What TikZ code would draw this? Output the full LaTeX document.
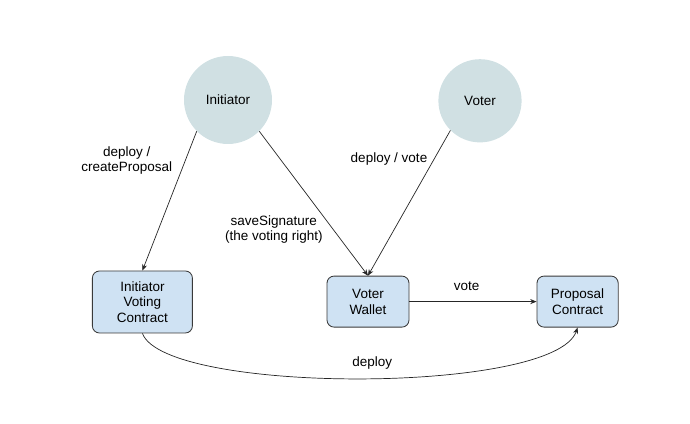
\documentclass[tikz,border=0pt]{standalone}
\usepackage{fontspec}
\setmainfont{Liberation Sans}
\usepackage{xcolor}
\usetikzlibrary{arrows.meta,positioning,calc}
\definecolor{actorfill}{HTML}{D0E0E3}
\definecolor{blockfill}{HTML}{CFE2F3}
\definecolor{edgegray}{HTML}{3A3A3A}

\begin{document}
\begin{tikzpicture}[font=\fontsize{9.6}{11.2}\selectfont,
  actor/.style={circle, fill=actorfill, draw=none, minimum size=2.2cm, inner sep=0pt},
  block/.style={draw=edgegray, line width=0.6pt, fill=blockfill, rounded corners=5pt, align=center, minimum width=2.05cm, minimum height=1.275cm, inner sep=2pt},
  arr/.style={-{Stealth[length=4.5pt, width=3.6pt]}, line width=0.5pt, draw=black!85}]
  \useasboundingbox (0,0) rectangle (17.25,10.6);
  \node[actor] (init) at (5.7,8.1) {Initiator};
  \node[actor, minimum size=2.08cm] (voter) at (12.0,8.08) {Voter};
  \node[block, minimum width=2.5cm, minimum height=1.55cm] (ivc) at (3.56,3.05) {Initiator\\Voting\\Contract};
  \node[block] (wallet) at (9.2,3.06) {Voter\\Wallet};
  \node[block, minimum width=2.03cm] (prop) at (14.44,3.06) {Proposal\\Contract};
  \draw[arr] (init.225) -- node[pos=0.21, left=0.2cm, align=center] {deploy /\\createProposal} (ivc.north);
  \draw[arr] (init.-45) -- node[pos=0.68, left=0.14cm, align=center] {saveSignature\\(the voting right)} (wallet.north);
  \draw[arr] (voter.225) -- node[pos=0.2, left=0.04cm] {deploy / vote} (wallet.north);
  \draw[arr] (wallet.east) -- node[pos=0.45, above=4.5pt] {vote} (prop.west);
  \draw[arr] (ivc.south) .. controls +(0.575,-1.525) and +(-0.575,-1.675) .. node[pos=0.52, above=3pt] {deploy} (prop.south);
\end{tikzpicture}
\end{document}
